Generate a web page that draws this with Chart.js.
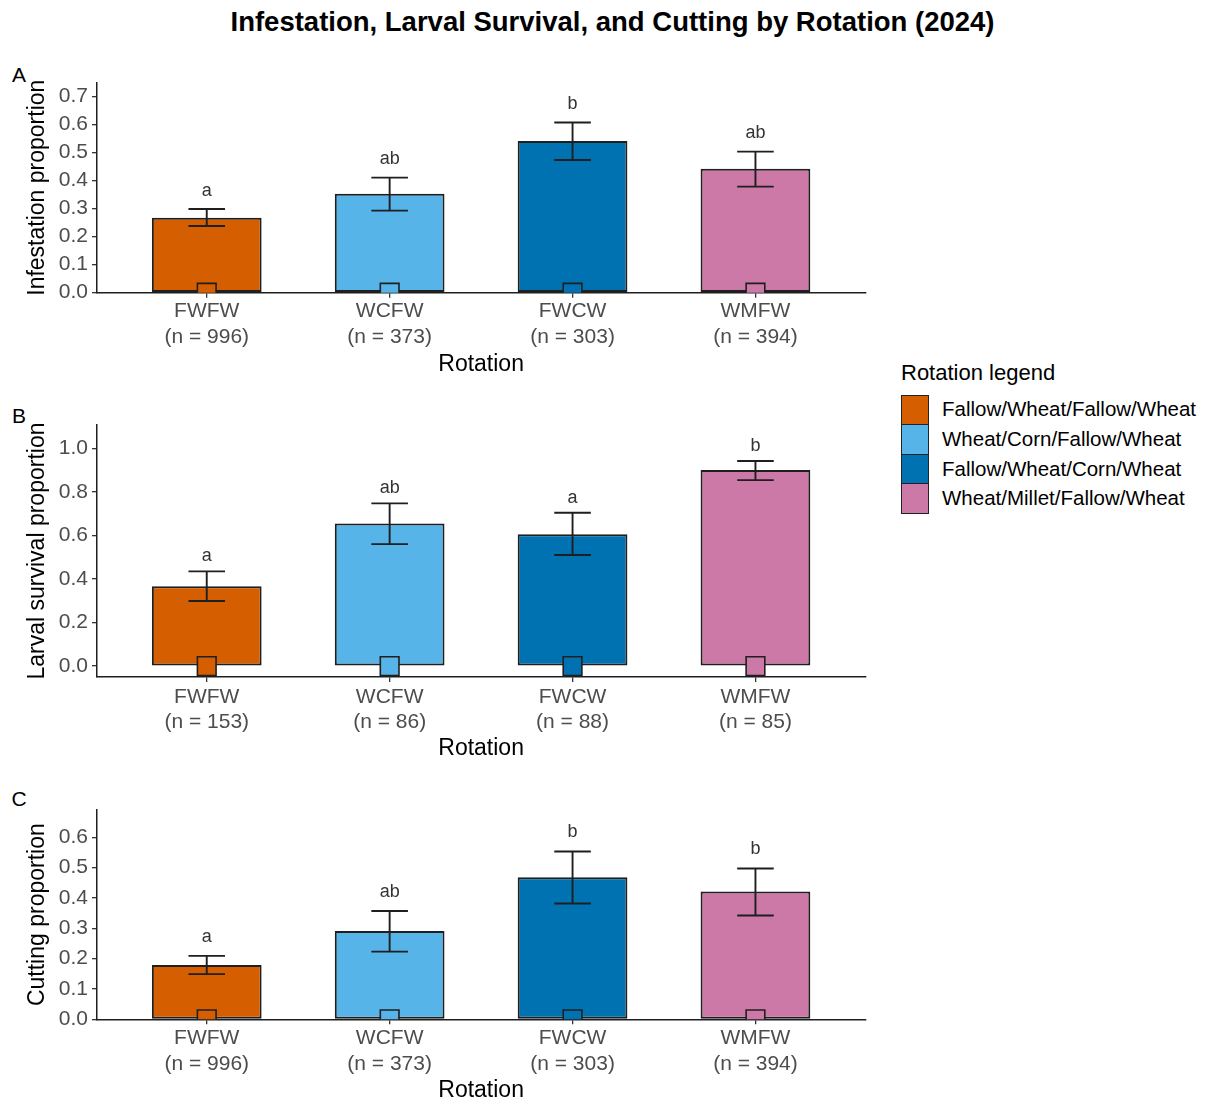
<!DOCTYPE html>
<html>
<head>
<meta charset="utf-8">
<script src="https://cdn.jsdelivr.net/npm/chart.js@4.4.1/dist/chart.umd.min.js"></script>
<style>
  html, body { margin: 0; padding: 0; background: #ffffff; }
  #page { position: relative; width: 1209px; height: 1103px; overflow: hidden;
          font-family: "Liberation Sans", Arial, Helvetica, sans-serif; color: #000; }
  canvas { position: absolute; left: 0; }
  .txt { position: absolute; line-height: 1; white-space: nowrap; }
  #title { left: 612.5px; top: 22px; transform: translate(-50%, -50%); font-weight: bold; font-size: 27.5px; }
  .tag { left: 19px; font-size: 21px; transform: translate(-50%, -50%); }
  #legendTitle { left: 901px; top: 373px; font-size: 22px; transform: translateY(-50%); }
  .key { position: absolute; left: 901px; width: 28px; box-sizing: border-box; border: 1.5px solid #222; }
  .keyLabel { left: 942px; font-size: 20.5px; transform: translateY(-50%); }
</style>
</head>
<body>
<div id="page">
  <div id="title" class="txt">Infestation, Larval Survival, and Cutting by Rotation (2024)</div>
  <div class="txt tag" style="top:73.5px">A</div>
  <div class="txt tag" style="top:415px">B</div>
  <div class="txt tag" style="top:797.5px">C</div>
  <canvas id="chartA" width="880" height="340" style="top:50px"></canvas>
  <canvas id="chartB" width="880" height="380" style="top:395px"></canvas>
  <canvas id="chartC" width="880" height="323" style="top:780px"></canvas>
  <div id="legendTitle" class="txt">Rotation legend</div>
  <div id="legend"></div>
</div>
<script>
// Rotations (x categories) and their fill colours
const categories = ['FWFW', 'WCFW', 'FWCW', 'WMFW'];
const rotationNames = ['Fallow/Wheat/Fallow/Wheat', 'Wheat/Corn/Fallow/Wheat',
                       'Fallow/Wheat/Corn/Wheat', 'Wheat/Millet/Fallow/Wheat'];
const rotationColors = ['#D55E00', '#56B4E9', '#0072B2', '#CC79A7'];
const xTitle = 'Rotation';

// A: infestation
const infestationN = [996, 373, 303, 394];
const infestationMean = [0.268, 0.353, 0.542, 0.443];
const infestationLower = [0.238, 0.293, 0.474, 0.379];
const infestationUpper = [0.299, 0.411, 0.608, 0.504];
const infestationLetters = ['a', 'ab', 'b', 'ab'];
const infestationTicks = [0.0, 0.1, 0.2, 0.3, 0.4, 0.5, 0.6, 0.7];

// B: larval survival
const survivalN = [153, 86, 88, 85];
const survivalMean = [0.367, 0.655, 0.605, 0.900];
const survivalLower = [0.299, 0.560, 0.510, 0.854];
const survivalUpper = [0.435, 0.747, 0.704, 0.942];
const survivalLetters = ['a', 'ab', 'a', 'b'];
const survivalTicks = [0.0, 0.2, 0.4, 0.6, 0.8, 1.0];

// C: cutting
const cuttingN = [996, 373, 303, 394];
const cuttingMean = [0.179, 0.291, 0.468, 0.421];
const cuttingLower = [0.149, 0.223, 0.382, 0.342];
const cuttingUpper = [0.209, 0.357, 0.553, 0.497];
const cuttingLetters = ['a', 'ab', 'b', 'b'];
const cuttingTicks = [0.0, 0.1, 0.2, 0.3, 0.4, 0.5, 0.6];

const FONT = '"Liberation Sans", Arial, Helvetica, sans-serif';
const INK = '#1f1f1f';
const PLOT_LEFT = 97, PLOT_RIGHT = 867, CANVAS_W = 880;

Chart.defaults.font.family = FONT;

// Error bars and significance letters, positioned through the chart scales
const errorBarPlugin = {
  id: 'errorBars',
  afterDatasetsDraw(chart, args, opts) {
    const { ctx, scales: { x, y } } = chart;
    ctx.save();
    ctx.strokeStyle = INK;
    ctx.lineWidth = 1.9;
    opts.lower.forEach((lo, i) => {
      const hi = opts.upper[i];
      const cx = x.getPixelForValue(i);
      const xl = x.getPixelForValue(i - 0.1), xr = x.getPixelForValue(i + 0.1);
      const yl = y.getPixelForValue(lo), yh = y.getPixelForValue(hi);
      ctx.beginPath();
      ctx.moveTo(cx, yl); ctx.lineTo(cx, yh);
      ctx.moveTo(xl, yh); ctx.lineTo(xr, yh);
      ctx.moveTo(xl, yl); ctx.lineTo(xr, yl);
      ctx.stroke();
    });
    ctx.fillStyle = '#333333';
    ctx.font = '18px ' + FONT;
    ctx.textAlign = 'center';
    ctx.textBaseline = 'alphabetic';
    opts.letters.forEach((t, i) => {
      ctx.fillText(t, x.getPixelForValue(i), y.getPixelForValue(opts.upper[i] + 0.047));
    });
    ctx.restore();
  }
};

function makePanel(id, p) {
  const canvasBottom = p.canvasTop + p.canvasH;
  return new Chart(document.getElementById(id), {
    type: 'bar',
    plugins: [errorBarPlugin],
    data: {
      datasets: [
        {
          type: 'scatter',
          order: 0,
          data: categories.map((c, i) => ({ x: i, y: 0 })),
          pointStyle: 'rect',
          pointRadius: 13.2,
          pointBackgroundColor: rotationColors,
          pointBorderColor: INK,
          pointBorderWidth: 1.6,
          clip: 0
        },
        {
          type: 'bar',
          order: 1,
          data: p.mean.map((v, i) => ({ x: i, y: v })),
          backgroundColor: rotationColors,
          borderColor: INK,
          borderWidth: 2,
          borderSkipped: false,
          categoryPercentage: 0.6,
          barPercentage: 1.0
        }
      ]
    },
    options: {
      responsive: false,
      animation: false,
      events: [],
      layout: { padding: { top: p.chartTop - p.canvasTop, right: CANVAS_W - PLOT_RIGHT, left: 0, bottom: 0 } },
      plugins: {
        legend: { display: false },
        tooltip: { enabled: false },
        errorBars: { lower: p.lower, upper: p.upper, letters: p.letters }
      },
      scales: {
        x: {
          type: 'linear',
          min: -0.6, max: 3.6,
          offset: false,
          afterBuildTicks: s => { s.ticks = categories.map((c, i) => ({ value: i })); },
          afterFit: s => { s.height = canvasBottom - p.chartBottom; },
          ticks: {
            font: { size: 21, lineHeight: 1.22 },
            color: '#4d4d4d',
            padding: p.tickPad,
            autoSkip: false,
            maxRotation: 0,
            callback: v => [categories[v], '(n = ' + p.n[v] + ')']
          },
          grid: { offset: false, drawOnChartArea: false, drawTicks: true, tickLength: 5, color: '#333', lineWidth: 1.3 },
          border: { display: true, color: INK, width: 1.5 },
          title: { display: true, text: xTitle, color: '#000', font: { size: 23, lineHeight: 1 },
                   padding: { top: 0, bottom: p.titlePad } }
        },
        y: {
          type: 'linear',
          min: p.yMin, max: p.yMax,
          afterBuildTicks: s => { s.ticks = p.ticks.map(v => ({ value: v })); },
          afterFit: s => { s.width = PLOT_LEFT; },
          ticks: { font: { size: 21 }, color: '#4d4d4d', padding: 4, callback: v => Number(v).toFixed(1) },
          grid: { drawOnChartArea: false, drawTicks: true, tickLength: 5, color: '#333', lineWidth: 1.3 },
          border: { display: true, color: INK, width: 1.5 },
          title: { display: true, text: p.yTitle, color: '#000', font: { size: 23, lineHeight: 1 },
                   padding: { top: 26.5, bottom: 0 } }
        }
      }
    }
  });
}

makePanel('chartA', {
  canvasTop: 50, canvasH: 340, chartTop: 82.7, chartBottom: 292.7, tickPad: 0.6, titlePad: 14,
  yMin: 0, yMax: 0.75, ticks: infestationTicks, yTitle: 'Infestation proportion',
  n: infestationN, mean: infestationMean, lower: infestationLower, upper: infestationUpper,
  letters: infestationLetters
});
makePanel('chartB', {
  canvasTop: 395, canvasH: 380, chartTop: 425, chartBottom: 677, tickPad: 2, titlePad: 14.5,
  yMin: -0.05, yMax: 1.107, ticks: survivalTicks, yTitle: 'Larval survival proportion',
  n: survivalN, mean: survivalMean, lower: survivalLower, upper: survivalUpper,
  letters: survivalLetters
});
makePanel('chartC', {
  canvasTop: 780, canvasH: 323, chartTop: 810, chartBottom: 1019.3, tickPad: 1.3, titlePad: 0.5,
  yMin: 0, yMax: 0.69, ticks: cuttingTicks, yTitle: 'Cutting proportion',
  n: cuttingN, mean: cuttingMean, lower: cuttingLower, upper: cuttingUpper,
  letters: cuttingLetters
});

// Fill legend for the rotations
const legend = document.getElementById('legend');
const keyTop = 394.5, keyH = 29.6;
rotationNames.forEach((name, i) => {
  const key = document.createElement('div');
  key.className = 'key';
  key.style.top = (keyTop + i * keyH) + 'px';
  key.style.height = (keyH + 1) + 'px';
  key.style.background = rotationColors[i];
  legend.appendChild(key);
  const label = document.createElement('div');
  label.className = 'txt keyLabel';
  label.style.top = (keyTop + (i + 0.5) * keyH) + 'px';
  label.textContent = name;
  legend.appendChild(label);
});
</script>
</body>
</html>
